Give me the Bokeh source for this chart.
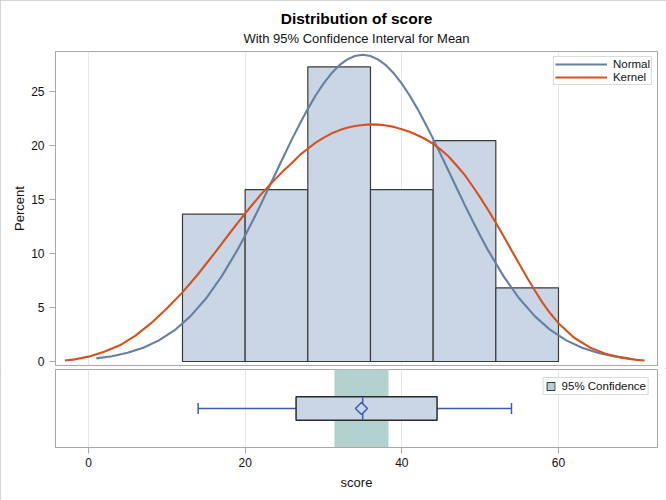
import math
from bokeh.plotting import figure
from bokeh.models import Range1d, FixedTicker, Legend, LegendItem, Title
from bokeh.layouts import column
from bokeh.embed import file_html
from bokeh.resources import INLINE

# ---------------- data ----------------
bin_left = [12, 20, 28, 36, 44, 52]
bin_right = [20, 28, 36, 44, 52, 60]
percent = [13.64, 15.91, 27.27, 15.91, 20.45, 6.82]

normal_x = [1, 3, 5, 7, 9, 11, 13, 15, 17, 19,
            20, 21, 22, 23, 24, 25, 26, 27, 28, 29, 30, 31, 32, 33, 34, 35,
            36, 37, 38, 39, 40, 41, 42, 43, 44, 45, 46, 47, 48, 49, 50,
            51, 53, 55, 57, 59, 61, 63, 65, 67, 69]
normal_y = [0.29, 0.49, 0.81, 1.28, 1.96, 2.90, 4.18, 5.83, 7.88, 10.31,
            11.66, 13.07, 14.55, 16.06, 17.59, 19.12, 20.61, 22.04, 23.39, 24.63,
            25.72, 26.66, 27.41, 27.95, 28.29, 28.40,
            28.29, 27.95, 27.41, 26.66, 25.72, 24.63, 23.39, 22.04, 20.61, 19.12,
            17.59, 16.06, 14.55, 13.07, 11.66,
            10.31, 7.88, 5.83, 4.18, 2.90, 1.96, 1.28, 0.81, 0.49, 0.29]

kernel_x = [-3, -2, 0, 2, 4, 6, 8, 10, 12, 14, 16, 17, 18, 19, 20, 21, 22, 23,
            24, 25, 26, 27, 28, 29, 30, 31, 32, 33, 34, 35, 36, 37, 38, 39, 40,
            41, 42, 43, 44, 45, 46, 47, 48, 49, 50, 51, 52, 53, 54, 55, 56, 57,
            58, 59, 60, 62, 64, 66, 68, 70, 71]
kernel_y = [0.09, 0.17, 0.45, 0.9, 1.5, 2.4, 3.55, 4.9, 6.4, 8.1, 9.95, 10.9,
            11.85, 12.78, 13.7, 14.58, 15.45, 16.24, 17.0, 17.72, 18.4, 19.13,
            19.7, 20.26, 20.7, 21.1, 21.4, 21.64, 21.8, 21.9, 21.95, 21.93, 21.85,
            21.72, 21.5, 21.27, 20.95, 20.6, 20.15, 19.6, 18.95, 18.15, 17.3,
            16.27, 15.2, 14.05, 12.85, 11.6, 10.3, 9.02, 7.75, 6.55, 5.4, 4.42,
            3.55, 2.2, 1.3, 0.72, 0.36, 0.15, 0.09]

box_min = [14.0]
box_q1 = [26.5]
box_median = [35.0]
box_mean = [34.85]
box_q3 = [44.5]
box_max = [54.0]
ci_low = [31.4]
ci_high = [38.3]

x_ticks = [0, 20, 40, 60]
y_ticks = [0, 5, 10, 15, 20, 25]

# ---------------- styles ----------------
FONT = "Liberation Sans"
FILL = "#cad5e5"
EDGE = "#3a3a3a"
NORMAL_C = "#667fa2"
KERNEL_C = "#d4521f"
CI_C = "#b3d1ce"
BOX_BLUE = "#3b5cb0"
FRAME = "#a8a8a8"
GRID = "#e6e6e6"

x_range = Range1d(-4.21, 72.64)

# ---------------- upper panel ----------------
up = figure(width=666, height=368, x_range=x_range, y_range=Range1d(-0.37, 28.70),
            output_backend="svg", toolbar_location=None, x_axis_location=None,
            min_border_left=55, min_border_right=9, min_border_bottom=3,
            min_border_top=51)
up.background_fill_color = "white"
up.border_fill_color = "white"
up.outline_line_color = FRAME
up.xgrid.ticker = FixedTicker(ticks=x_ticks)
up.xgrid.grid_line_color = GRID
up.ygrid.visible = False

ya = up.yaxis[0]
ya.ticker = FixedTicker(ticks=y_ticks)
ya.axis_label = "Percent"
ya.axis_label_text_font = FONT
ya.axis_label_text_font_size = "13px"
ya.axis_label_text_font_style = "normal"
ya.axis_label_text_color = "#111111"
ya.axis_label_standoff = 1
ya.major_label_text_font = FONT
ya.major_label_text_font_size = "12px"
ya.major_label_text_color = "#111111"
ya.major_label_standoff = 5
ya.major_tick_out = 6
ya.major_tick_in = 0
ya.major_tick_line_color = FRAME
ya.minor_tick_line_color = None
ya.axis_line_color = FRAME

sub = Title(text="With 95% Confidence Interval for Mean", align="center",
            text_font=FONT, text_font_size="13px", text_font_style="normal",
            text_color="#111111", standoff=11)
ttl = Title(text="Distribution of score", align="center",
            text_font=FONT, text_font_size="15.5px", text_font_style="bold",
            text_color="#000000", standoff=-6)
up.add_layout(sub, "above")
up.add_layout(ttl, "above")

up.quad(left=bin_left, right=bin_right, bottom=0, top=percent,
        fill_color=FILL, line_color=EDGE, line_width=1.2)
r_norm = up.line(normal_x, normal_y, line_color=NORMAL_C, line_width=2.1)
r_kern = up.line(kernel_x, kernel_y, line_color=KERNEL_C, line_width=2.1)

leg = Legend(items=[LegendItem(label="Normal", renderers=[r_norm]),
                    LegendItem(label="Kernel", renderers=[r_kern])],
             location="top_right", margin=5, padding=1, spacing=1,
             glyph_width=52, glyph_height=12, label_height=12,
             label_standoff=6, label_text_font=FONT,
             label_text_font_size="11.5px", label_text_color="#111111",
             border_line_color="#b8b8b8", background_fill_color="white",
             background_fill_alpha=1.0)
up.add_layout(leg, "center")

# ---------------- lower panel ----------------
lo = figure(width=666, height=132, x_range=x_range, y_range=Range1d(0, 1),
            output_backend="svg", toolbar_location=None, y_axis_location=None,
            min_border_left=55, min_border_right=9, min_border_top=1,
            min_border_bottom=53)
lo.background_fill_color = "white"
lo.border_fill_color = "white"
lo.outline_line_color = FRAME
lo.xgrid.ticker = FixedTicker(ticks=x_ticks)
lo.xgrid.grid_line_color = GRID
lo.ygrid.visible = False

xa = lo.xaxis[0]
xa.ticker = FixedTicker(ticks=x_ticks)
xa.axis_label = "score"
xa.axis_label_text_font = FONT
xa.axis_label_text_font_size = "13px"
xa.axis_label_text_font_style = "normal"
xa.axis_label_text_color = "#111111"
xa.axis_label_standoff = 5
xa.major_label_text_font = FONT
xa.major_label_text_font_size = "12px"
xa.major_label_text_color = "#111111"
xa.major_label_standoff = 4
xa.major_tick_out = 6
xa.major_tick_in = 0
xa.major_tick_line_color = FRAME
xa.minor_tick_line_color = None
xa.axis_line_color = FRAME

# confidence band (spans the whole panel height)
lo.quad(left=ci_low, right=ci_high, bottom=-0.05, top=1.05,
        fill_color=CI_C, line_color=None)
# legend proxy (outside the visible range)
r_ci = lo.quad(left=ci_low, right=ci_high, bottom=5, top=6,
               fill_color=CI_C, line_color="#333333", line_width=1)

mid = 0.5
half_box = 0.152
cap = 0.07
# whiskers
lo.segment(x0=box_min + box_q3, y0=[mid, mid], x1=box_q1 + box_max, y1=[mid, mid],
           line_color=BOX_BLUE, line_width=1.5)
lo.segment(x0=box_min + box_max, y0=[mid - cap] * 2, x1=box_min + box_max,
           y1=[mid + cap] * 2, line_color=BOX_BLUE, line_width=1.5)
# box
lo.quad(left=box_q1, right=box_q3, bottom=mid - half_box, top=mid + half_box,
        fill_color=FILL, line_color="#2a2a2a", line_width=1.5)
# median
lo.segment(x0=box_median, y0=[mid - half_box], x1=box_median, y1=[mid + half_box],
           line_color=BOX_BLUE, line_width=1.5)
# mean
lo.scatter(x=box_mean, y=[mid], marker="square", angle=math.pi / 4, size=8.5,
           fill_color=FILL, line_color=BOX_BLUE, line_width=1.5)

leg2 = Legend(items=[LegendItem(label="95% Confidence", renderers=[r_ci])],
              location="top_right", margin=8, padding=2, spacing=0,
              glyph_width=10, glyph_height=10, label_height=10,
              label_standoff=6, label_text_font=FONT,
              label_text_font_size="11.5px", label_text_color="#111111",
              border_line_color="#b8b8b8", background_fill_color="white",
              background_fill_alpha=1.0)
lo.add_layout(leg2, "center")

layout = column(up, lo, spacing=0,
                styles={"outline": "1px solid #c8c8c8", "outline-offset": "-1px"})
open("out.html", "w").write(file_html(layout, INLINE))
